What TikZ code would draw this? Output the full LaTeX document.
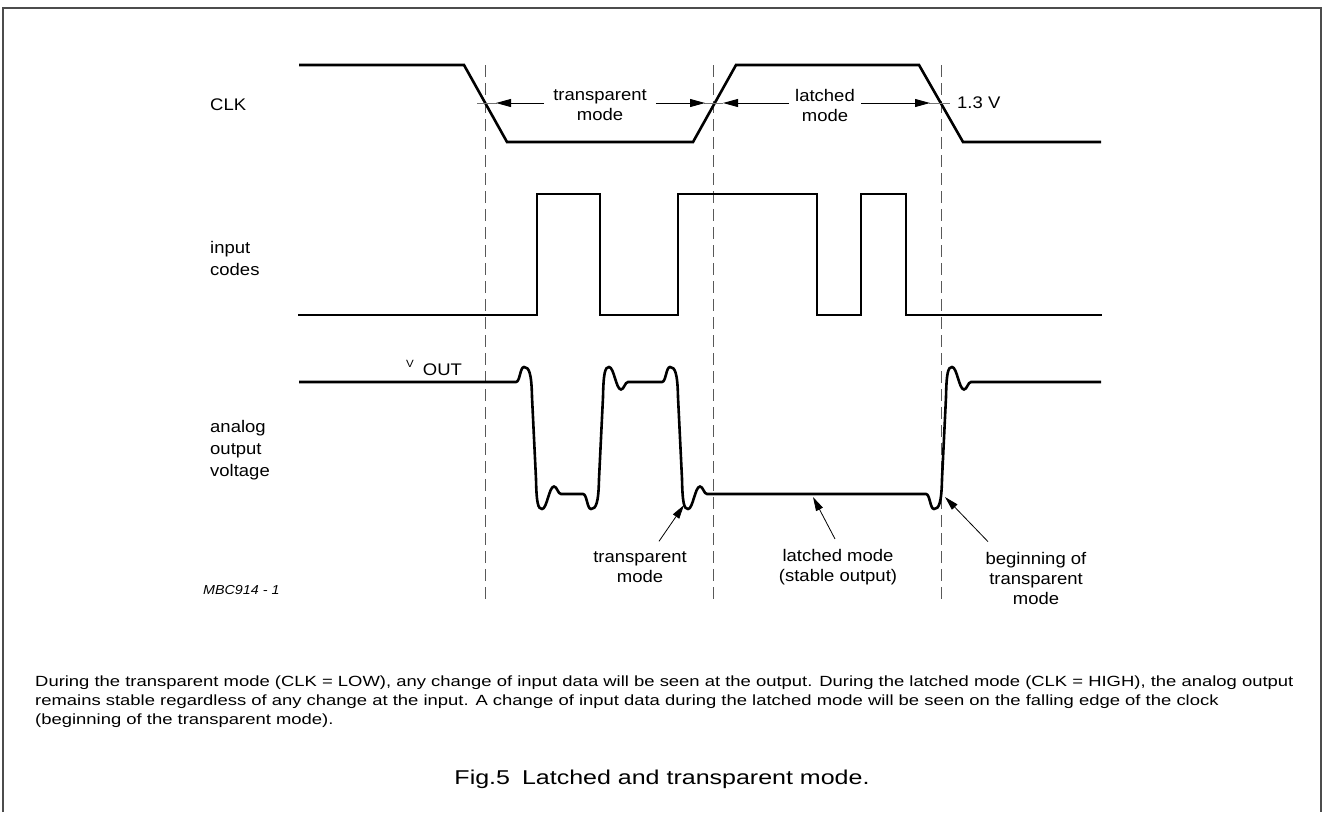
\documentclass[tikz,border=0pt]{standalone}
\usepackage{fontspec}
\setmainfont{Liberation Sans}
\newfontfamily\lblfont{Liberation Sans}[FakeStretch=1.1]
\newfontfamily\parafont{Liberation Sans}[FakeStretch=1.25]
\usetikzlibrary{arrows.meta}

% one ringing edge of the analog output: #1 centre x, #2 start level, #3 end level, #4 direction (1 or (-1))
\newcommand{\sigedge}[4]{%
 -- ({#1-18},#2)
 .. controls ({#1-14},#2) and ({#1-14},{#2-15*#4}) .. ({#1-10},{#2-15*#4})
 .. controls ({#1-5},{#2-15*#4}) and ({#1-2.5},{#2-9*#4}) .. ({#1-2},{#2+15*#4})
 -- ({#1+2},{#3-15*#4})
 .. controls ({#1+2.5},{#3+9*#4}) and ({#1+4},{#3+15*#4}) .. ({#1+8},{#3+15*#4})
 .. controls ({#1+13},{#3+15*#4}) and ({#1+15},{#3-7.5*#4}) .. ({#1+20},{#3-7.5*#4})
 .. controls ({#1+23},{#3-7.5*#4}) and ({#1+24},#3) .. ({#1+27},#3)}

\begin{document}
\begin{tikzpicture}[x=1pt,y=-1pt,
  frame/.style={black!70,line width=1.5pt},
  wave/.style={line width=2.6pt,line join=miter},
  guide/.style={black!65,line width=1pt,dash pattern=on 12pt off 6pt},
  refline/.style={black!55,line width=1pt},
  dimarrow/.style={line width=0.9pt,-{Triangle[length=15pt,width=8pt]}},
  callout/.style={line width=0.8pt,-{Triangle[length=14pt,width=7.5pt]}},
  lbl/.style={font=\lblfont\fontsize{16.8}{20}\selectfont,inner sep=0pt},
  sidelbl/.style={font=\lblfont\fontsize{16.8}{22}\selectfont,inner sep=0pt,align=left,anchor=west},
  para/.style={font=\parafont\fontsize{14.75}{19}\selectfont,inner sep=0pt,align=left,anchor=base west},
  caption/.style={font=\parafont\fontsize{20}{24}\selectfont,inner sep=0pt}
]
\useasboundingbox (0,0) rectangle (1324,812);
\draw[frame] (3,812) -- (3,8) -- (1321,8) -- (1321,812);

% vertical guides
\coordinate (g1t) at (485,65);  \coordinate (g1b) at (485,603);
\coordinate (g2t) at (713,65);  \coordinate (g2b) at (713,603);
\coordinate (g3t) at (941,65);  \coordinate (g3b) at (941,603);
\draw[guide] (g1t) -- (g1b);
\draw[guide] (g2t) -- (g2b);
\draw[guide] (g3t) -- (g3b);

% CLK
\node[lbl,anchor=west] (clk) at (210,105) {CLK};
\draw[wave] (299,65) -- (464,65) -- (507,142) -- (693,142) -- (736,65) -- (919,65) -- (963,142) -- (1101,142);

% 1.3 V level marks
\coordinate (r1a) at (477,103); \coordinate (r1b) at (497,103);
\coordinate (r2a) at (704,103); \coordinate (r2b) at (723,103);
\coordinate (r3a) at (929,103); \coordinate (r3b) at (950,103);
\draw[refline] (r1a) -- (r1b);
\draw[refline] (r2a) -- (r2b);
\draw[refline] (r3a) -- (r3b);
\node[lbl,anchor=west] (v13) at (957,103) {1.3 V};

% mode dimension arrows
\coordinate (tL) at (496,103); \coordinate (tR) at (705,103);
\coordinate (lL) at (723,103); \coordinate (lR) at (930,103);
\node[lbl,align=center,inner xsep=9pt] (trans) at (600,105) {transparent\\mode};
\node[lbl,align=center,inner xsep=6pt] (latch) at (825,105) {latched\\mode};
\draw[dimarrow] (trans.west |- tL) -- (tL);
\draw[dimarrow] (trans.east |- tR) -- (tR);
\draw[dimarrow] (latch.west |- lL) -- (lL);
\draw[dimarrow] (latch.east |- lR) -- (lR);

% input codes
\node[sidelbl] (inp) at (210,258) {input\\codes};
\draw[wave] (298,315) -- (537,315) -- (537,194) -- (600,194) -- (600,315) -- (678,315) -- (678,194) -- (817,194) -- (817,315) -- (861,315) -- (861,194) -- (906,194) -- (906,315) -- (1102,315);

% analog output voltage
\node[sidelbl] (ana) at (210,450) {analog\\output\\voltage};
\node[lbl,anchor=base west] (vout) at (406,375) {\raisebox{8pt}{\fontsize{10.5}{12}\selectfont V}\hspace{9pt}OUT};
\draw[wave] (299,382) \sigedge{534}{382}{494}{1} \sigedge{601}{494}{382}{(-1)} \sigedge{680}{382}{494}{1} \sigedge{944}{494}{382}{(-1)} -- (1101,382);

% callouts
\coordinate (pa) at (684,505);
\coordinate (pb) at (813,497);
\coordinate (pc) at (945,497);
\node[lbl,align=center] (btrans) at (640,567) {transparent\\mode};
\node[lbl,align=center] (blatch) at (838,567) {latched mode\\(stable output)};
\node[lbl,align=center] (bbeg) at (1036,578) {beginning of\\transparent\\mode};
\draw[callout] ([xshift=19pt,yshift=10pt]btrans.north) -- (pa);
\draw[callout] ([xshift=-3pt,yshift=10pt]blatch.north) -- (pb);
\draw[callout] ([xshift=-48pt,yshift=10pt]bbeg.north) -- (pc);

\node[font=\lblfont\itshape\fontsize{13}{15}\selectfont,inner sep=0pt,anchor=west] (mbc) at (203,590) {MBC914 - 1};

% description
\node[para] (desc) at (35,724) {During the transparent mode (CLK = LOW), any change of input data will be seen at the output. During the latched mode (CLK = HIGH), the analog output\\remains stable regardless of any change at the input. A change of input data during the latched mode will be seen on the falling edge of the clock\\(beginning of the transparent mode).};
\node[caption] (fig) at (662,779) {Fig.5\hspace{0.6em}Latched and transparent mode.};
\end{tikzpicture}
\end{document}
